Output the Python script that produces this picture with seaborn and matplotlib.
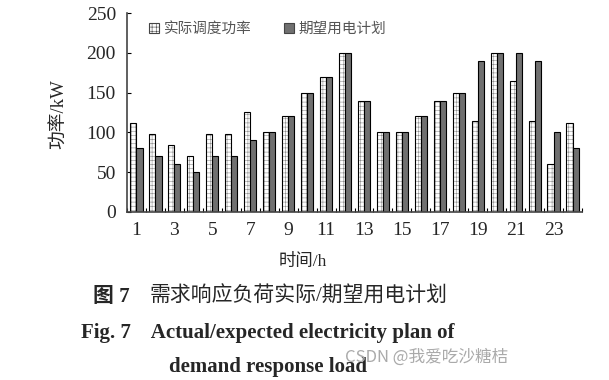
import matplotlib
matplotlib.use("Agg")
import matplotlib.pyplot as plt
import seaborn as sns
import pandas as pd
import numpy as np
from matplotlib.ticker import FixedLocator
from matplotlib.patches import Patch

hours = list(range(1, 25))
actual = [112, 98, 84, 70, 98, 98, 125, 100, 120, 150, 170, 200,
          140, 100, 100, 120, 140, 150, 114, 200, 164, 114, 60, 112]
expected = [80, 70, 60, 50, 70, 70, 90, 100, 120, 150, 170, 200,
            140, 100, 100, 120, 140, 150, 190, 200, 200, 190, 100, 80]
series_names = ["实际调度功率", "期望用电计划"]
yticks = [0, 50, 100, 150, 200, 250]

sns.set_theme(style="white")
plt.rcParams['font.family'] = ['Liberation Serif', 'Noto Sans CJK SC']
plt.rcParams['hatch.linewidth'] = 0.4

df = pd.DataFrame({
    "hour": [str(h) for h in hours] * 2,
    "value": actual + expected,
    "series": [series_names[0]] * 24 + [series_names[1]] * 24,
})

fig = plt.figure(figsize=(6.09, 3.80), dpi=100)
ax = fig.add_axes([127 / 609, 1 - 212 / 380, 455 / 609, 199 / 380])

sns.barplot(data=df, x="hour", y="value", hue="series", ax=ax,
            palette=["white", "#707070"], width=0.64, gap=0.0,
            edgecolor="black", linewidth=0.8, legend=False)

for bar in ax.containers[0]:
    bar.set_hatch("++++")
    bar._hatch_color = (0.55, 0.55, 0.55, 1.0)

ax.set_ylim(0, 250)
ax.set_xlim(-0.5, 23.5)
ax.set_yticks(yticks)
ax.set_yticklabels([str(v) for v in yticks], fontsize=14)
ax.set_xticks(range(0, 24, 2))
ax.set_xticklabels([str(h) for h in hours[::2]], fontsize=14)
ax.xaxis.set_minor_locator(FixedLocator(np.arange(-0.5, 24, 1)))
ax.tick_params(axis='x', which='major', length=0, pad=7)
ax.tick_params(axis='x', which='minor', direction='in', length=3, width=0.8, color='black', bottom=True)
ax.tick_params(axis='y', which='major', direction='in', length=3, width=0.8, color='black', left=True, pad=8)

for s in ["top", "right"]:
    ax.spines[s].set_visible(False)
for s in ["left", "bottom"]:
    ax.spines[s].set_color("#444444")
    ax.spines[s].set_linewidth(1.2)

ax.set_xlabel("")
ax.set_ylabel("")
fig.text(60 / 609, 1 - 114 / 380, "功率/kW", rotation=90, ha='center', va='center', fontsize=13.5)
fig.text(303 / 609, 1 - 262 / 380, "时间/h", ha='center', va='center', fontsize=12.5)

# legend
handles = [Patch(facecolor="white", edgecolor="#444444", hatch="++++", linewidth=0.8),
           Patch(facecolor="#707070", edgecolor="#444444", linewidth=0.8)]
leg = ax.legend(handles, series_names, loc='upper left', bbox_to_anchor=(0.02, 1.02),
                ncol=2, frameon=False, handlelength=0.7, handleheight=0.7,
                handletextpad=0.3, columnspacing=2.2,
                prop={'family': 'Noto Sans CJK SC', 'size': 10.5})
for t in leg.get_texts():
    t.set_color("#555555")

# caption
cap_fam = ['Liberation Serif', 'Noto Sans CJK SC']
fig.text(93 / 609, 1 - 297 / 380, "图 7", ha='left', va='center',
         fontsize=15, fontweight='bold', family=cap_fam)
fig.text(150 / 609, 1 - 297 / 380, "需求响应负荷实际/期望用电计划", ha='left', va='center',
         fontsize=15, family=cap_fam)
fig.text(268 / 609, 1 - 333 / 380, "Fig. 7    Actual/expected electricity plan of", ha='center',
         va='center', fontsize=15, fontweight='bold', family='Liberation Serif')
fig.text(268 / 609, 1 - 367 / 380, "demand response load", ha='center', va='center',
         fontsize=15, fontweight='bold', family='Liberation Serif')
fig.text(508 / 609, 1 - 357 / 380, "CSDN @我爱吃沙糖桔", ha='right', va='center',
         fontsize=12, color="#aaaaaa", family=['Noto Sans CJK SC', 'DejaVu Sans'])

fig.savefig("out.png", dpi=100)
